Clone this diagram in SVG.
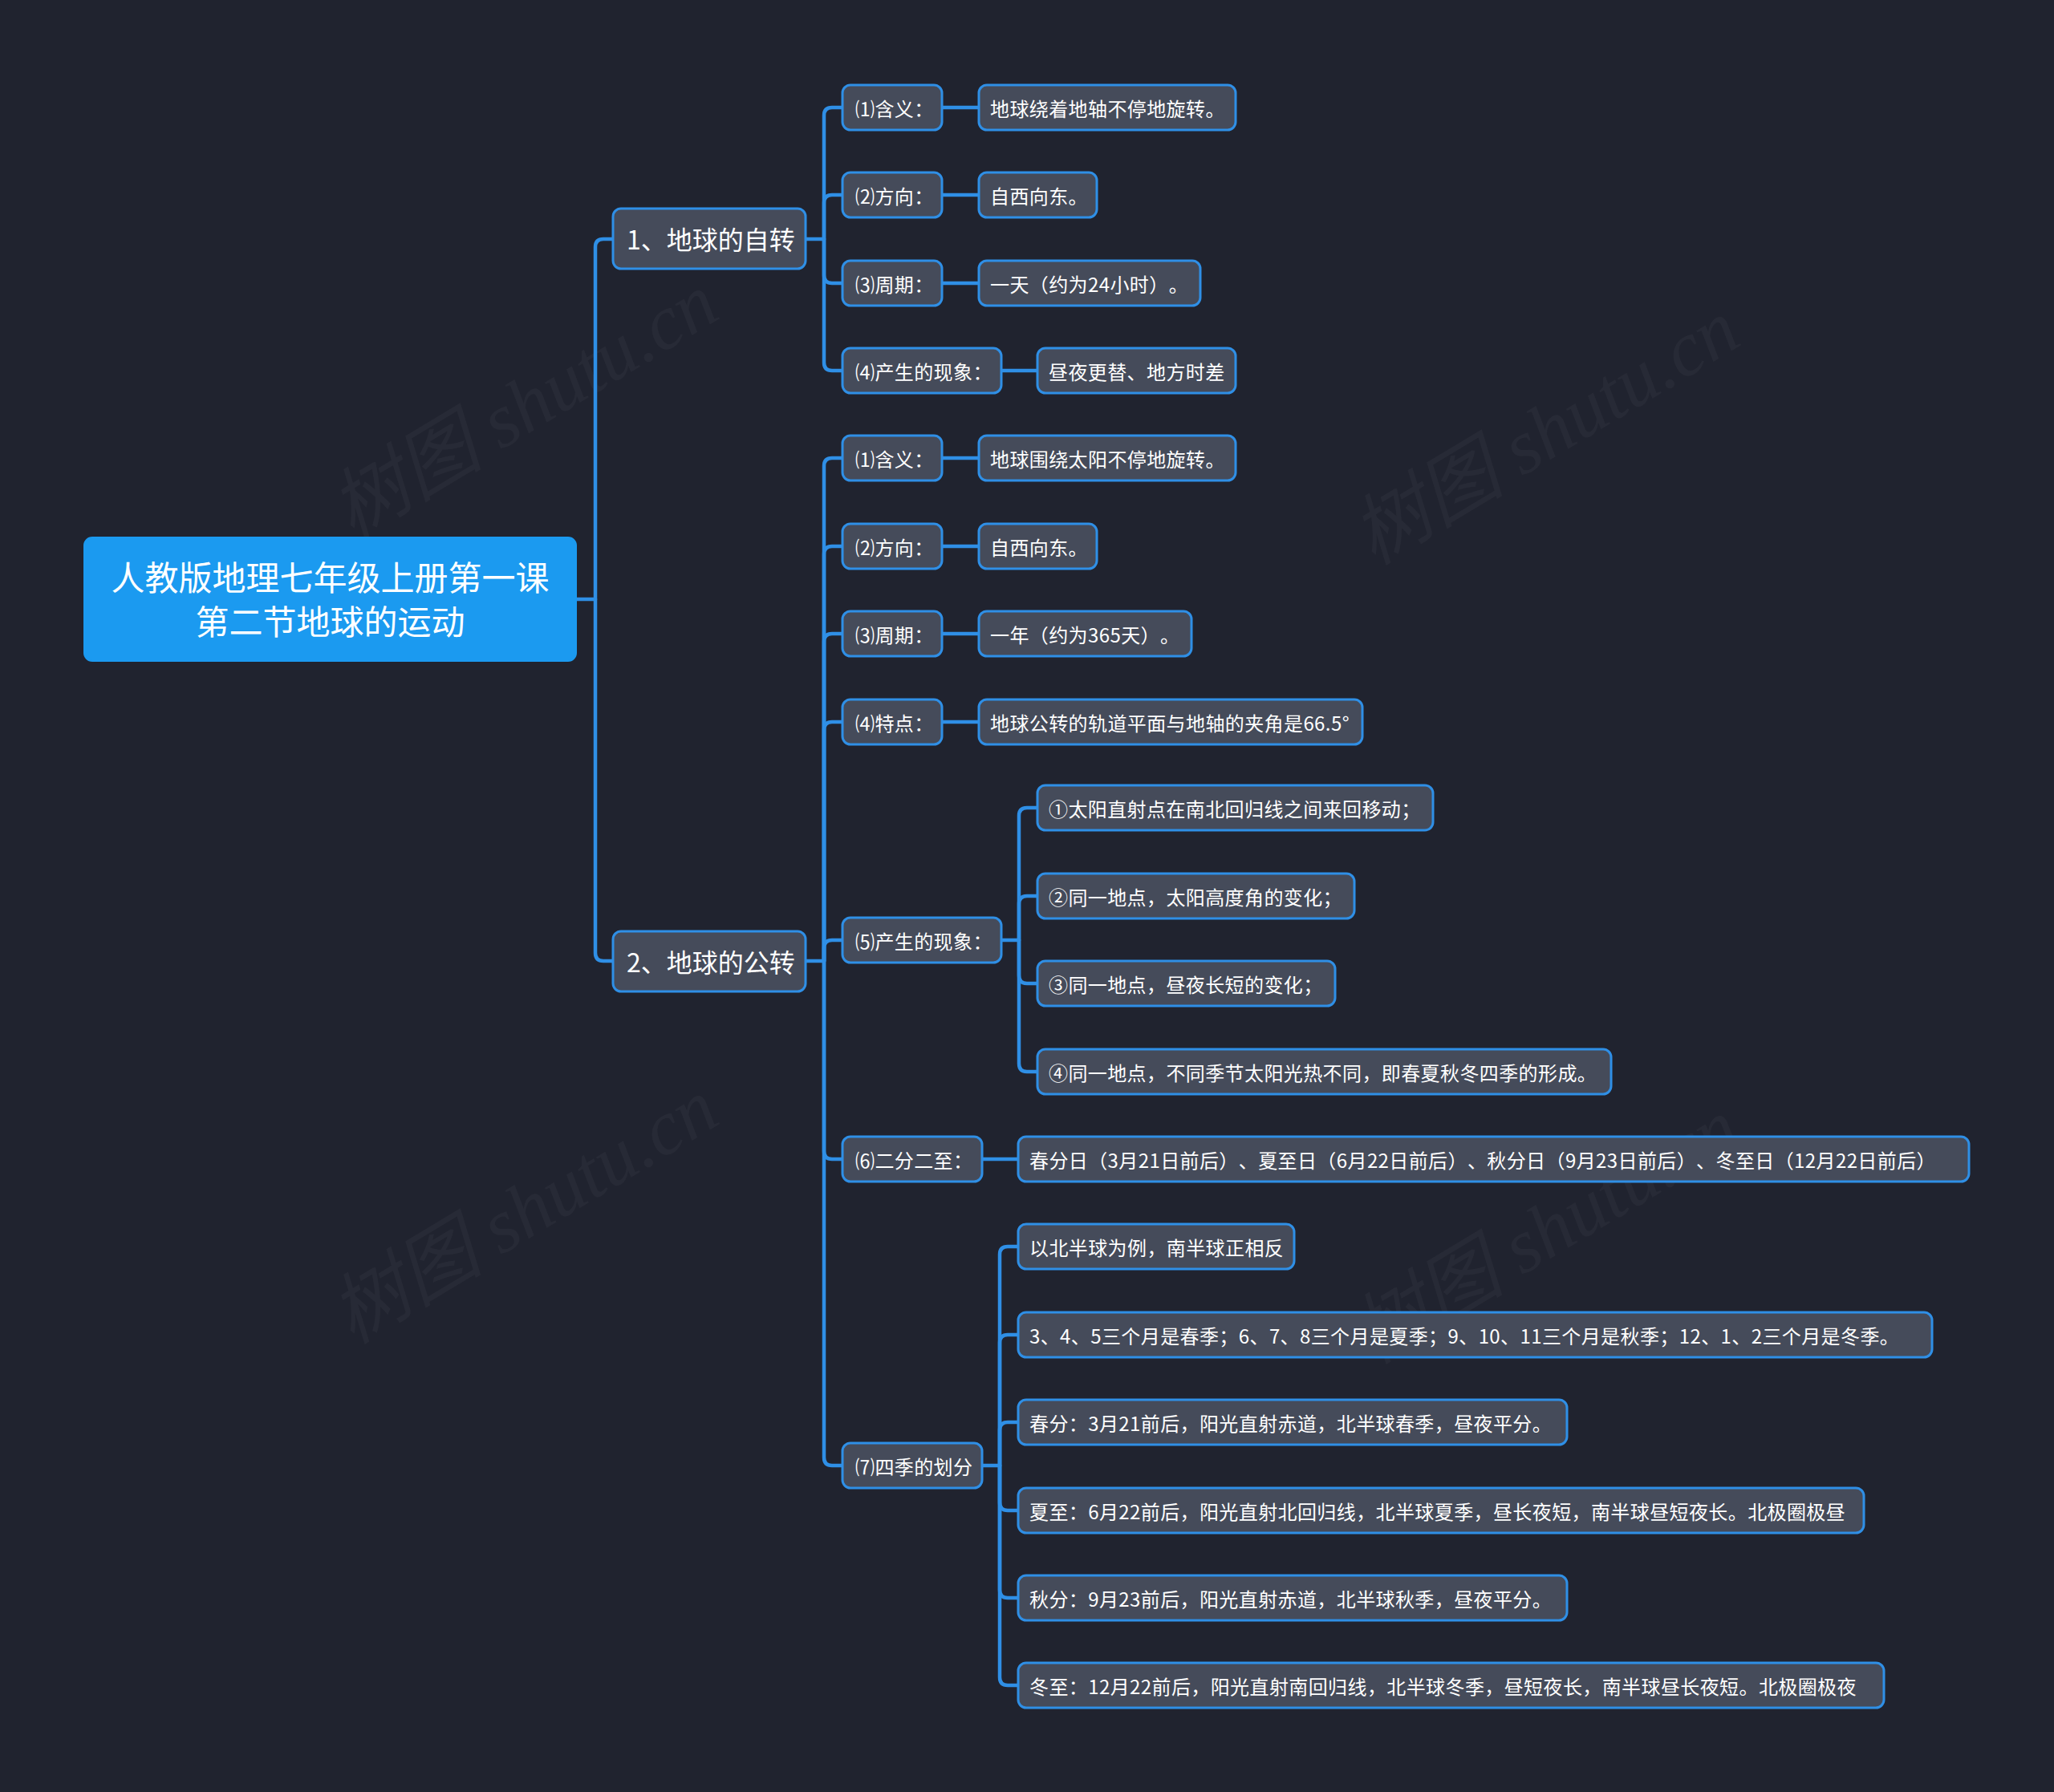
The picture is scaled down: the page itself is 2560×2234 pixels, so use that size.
<svg xmlns="http://www.w3.org/2000/svg" width="2560" height="2234" viewBox="0 0 2560 2234">
<style>
.bg{fill:#20232f}
.wm{font-family:"Liberation Serif","Noto Sans CJK SC",serif;font-style:italic;font-size:96px;fill:#ffffff;fill-opacity:0.035}
.root rect{fill:#1b9af0;stroke:#1b9af0;stroke-width:2}
.root text{font-family:"Noto Sans CJK SC","Noto Sans",sans-serif;font-size:42px;fill:#ffffff;text-anchor:middle;dominant-baseline:central}
.n rect{fill:#454b5a;stroke:#2f8fe6;stroke-width:3}
.n text{font-family:"Noto Sans CJK SC","Noto Sans",sans-serif;font-size:24px;fill:#ffffff;dominant-baseline:central;text-spacing-trim:space-all;letter-spacing:0.4px}
.l1 text{font-size:32px;letter-spacing:0}
.c path{fill:none;stroke:#2f8fe6;stroke-width:4.5;stroke-linecap:round;stroke-linejoin:round}
</style>
<rect class="bg" x="0" y="0" width="2560" height="2234"/>
<g id="watermarks">
<text class="wm" transform="translate(653,506) rotate(-31)" text-anchor="middle" dominant-baseline="central">树图 shutu.cn</text>
<text class="wm" transform="translate(1926,539) rotate(-31)" text-anchor="middle" dominant-baseline="central">树图 shutu.cn</text>
<text class="wm" transform="translate(653,1510) rotate(-31)" text-anchor="middle" dominant-baseline="central">树图 shutu.cn</text>
<text class="wm" transform="translate(1926,1535) rotate(-31)" text-anchor="middle" dominant-baseline="central">树图 shutu.cn</text>
</g>
<g id="connectors" class="c">
<path d="M718,747 L742,747"/>
<path d="M742,747 L742,308 Q742,298 752,298 L764,298"/>
<path d="M742,747 L742,1188 Q742,1198 752,1198 L764,1198"/>
<path d="M1004,298 L1027,298"/>
<path d="M1027,298 L1027,144 Q1027,134 1037,134 L1050,134"/>
<path d="M1027,298 L1027,253 Q1027,243 1037,243 L1050,243"/>
<path d="M1027,298 L1027,343 Q1027,353 1037,353 L1050,353"/>
<path d="M1027,298 L1027,452 Q1027,462 1037,462 L1050,462"/>
<path d="M1174,134 L1220,134"/>
<path d="M1174,243 L1220,243"/>
<path d="M1174,353 L1220,353"/>
<path d="M1248,462 L1293,462"/>
<path d="M1004,1198 L1027,1198"/>
<path d="M1027,1198 L1027,581 Q1027,571 1037,571 L1050,571"/>
<path d="M1027,1198 L1027,691 Q1027,681 1037,681 L1050,681"/>
<path d="M1027,1198 L1027,800 Q1027,790 1037,790 L1050,790"/>
<path d="M1027,1198 L1027,910 Q1027,900 1037,900 L1050,900"/>
<path d="M1027,1198 L1027,1182 Q1027,1172 1037,1172 L1050,1172"/>
<path d="M1027,1198 L1027,1435 Q1027,1445 1037,1445 L1050,1445"/>
<path d="M1027,1198 L1027,1817 Q1027,1827 1037,1827 L1050,1827"/>
<path d="M1174,571 L1220,571"/>
<path d="M1174,681 L1220,681"/>
<path d="M1174,790 L1220,790"/>
<path d="M1174,900 L1220,900"/>
<path d="M1248,1172 L1270,1172"/>
<path d="M1270,1172 L1270,1017 Q1270,1007 1280,1007 L1293,1007"/>
<path d="M1270,1172 L1270,1127 Q1270,1117 1280,1117 L1293,1117"/>
<path d="M1270,1172 L1270,1216 Q1270,1226 1280,1226 L1293,1226"/>
<path d="M1270,1172 L1270,1326 Q1270,1336 1280,1336 L1293,1336"/>
<path d="M1224,1445 L1269,1445"/>
<path d="M1224,1827 L1246,1827"/>
<path d="M1246,1827 L1246,1564 Q1246,1554 1256,1554 L1269,1554"/>
<path d="M1246,1827 L1246,1674 Q1246,1664 1256,1664 L1269,1664"/>
<path d="M1246,1827 L1246,1783 Q1246,1773 1256,1773 L1269,1773"/>
<path d="M1246,1827 L1246,1873 Q1246,1883 1256,1883 L1269,1883"/>
<path d="M1246,1827 L1246,1982 Q1246,1992 1256,1992 L1269,1992"/>
<path d="M1246,1827 L1246,2091 Q1246,2101 1256,2101 L1269,2101"/>
</g>
<g id="root" class="root"><rect x="105" y="670" width="613" height="154" rx="10"/><text x="411.5" y="717">人教版地理七年级上册第一课</text><text x="411.5" y="772">第二节地球的运动</text></g>
<g id="n1" class="n l1"><rect x="764" y="260" width="240" height="75" rx="10"/><text x="781" y="297">1、地球的自转</text></g>
<g id="n2" class="n l1"><rect x="764" y="1161" width="240" height="75" rx="10"/><text x="781" y="1198">2、地球的公转</text></g>
<g id="n1a" class="n"><rect x="1050" y="106" width="124" height="56" rx="10"/><text x="1066" y="134">⑴含义：</text></g>
<g id="n1a1" class="n"><rect x="1220" y="106" width="320" height="56" rx="10"/><text x="1234" y="134">地球绕着地轴不停地旋转。</text></g>
<g id="n1b" class="n"><rect x="1050" y="215" width="124" height="56" rx="10"/><text x="1066" y="243">⑵方向：</text></g>
<g id="n1b1" class="n"><rect x="1220" y="215" width="147" height="56" rx="10"/><text x="1234" y="243">自西向东。</text></g>
<g id="n1c" class="n"><rect x="1050" y="325" width="124" height="56" rx="10"/><text x="1066" y="353">⑶周期：</text></g>
<g id="n1c1" class="n"><rect x="1220" y="325" width="276" height="56" rx="10"/><text x="1234" y="353">一天（约为24小时）。</text></g>
<g id="n1d" class="n"><rect x="1050" y="434" width="198" height="56" rx="10"/><text x="1066" y="462">⑷产生的现象：</text></g>
<g id="n1d1" class="n"><rect x="1293" y="434" width="247" height="56" rx="10"/><text x="1307" y="462">昼夜更替、地方时差</text></g>
<g id="n2a" class="n"><rect x="1050" y="543" width="124" height="56" rx="10"/><text x="1066" y="571">⑴含义：</text></g>
<g id="n2a1" class="n"><rect x="1220" y="543" width="320" height="56" rx="10"/><text x="1234" y="571">地球围绕太阳不停地旋转。</text></g>
<g id="n2b" class="n"><rect x="1050" y="653" width="124" height="56" rx="10"/><text x="1066" y="681">⑵方向：</text></g>
<g id="n2b1" class="n"><rect x="1220" y="653" width="147" height="56" rx="10"/><text x="1234" y="681">自西向东。</text></g>
<g id="n2c" class="n"><rect x="1050" y="762" width="124" height="56" rx="10"/><text x="1066" y="790">⑶周期：</text></g>
<g id="n2c1" class="n"><rect x="1220" y="762" width="265" height="56" rx="10"/><text x="1234" y="790">一年（约为365天）。</text></g>
<g id="n2d" class="n"><rect x="1050" y="872" width="124" height="56" rx="10"/><text x="1066" y="900">⑷特点：</text></g>
<g id="n2d1" class="n"><rect x="1220" y="872" width="478" height="56" rx="10"/><text x="1234" y="900">地球公转的轨道平面与地轴的夹角是66.5°</text></g>
<g id="n2e" class="n"><rect x="1050" y="1144" width="198" height="56" rx="10"/><text x="1066" y="1172">⑸产生的现象：</text></g>
<g id="n2e1" class="n"><rect x="1293" y="979" width="493" height="56" rx="10"/><text x="1307" y="1007">①太阳直射点在南北回归线之间来回移动；</text></g>
<g id="n2e2" class="n"><rect x="1293" y="1089" width="395" height="56" rx="10"/><text x="1307" y="1117">②同一地点，太阳高度角的变化；</text></g>
<g id="n2e3" class="n"><rect x="1293" y="1198" width="371" height="56" rx="10"/><text x="1307" y="1226">③同一地点，昼夜长短的变化；</text></g>
<g id="n2e4" class="n"><rect x="1293" y="1308" width="715" height="56" rx="10"/><text x="1307" y="1336">④同一地点，不同季节太阳光热不同，即春夏秋冬四季的形成。</text></g>
<g id="n2f" class="n"><rect x="1050" y="1417" width="174" height="56" rx="10"/><text x="1066" y="1445">⑹二分二至：</text></g>
<g id="n2f1" class="n"><rect x="1269" y="1417" width="1185" height="56" rx="10"/><text x="1283" y="1445">春分日（3月21日前后）、夏至日（6月22日前后）、秋分日（9月23日前后）、冬至日（12月22日前后）</text></g>
<g id="n2g" class="n"><rect x="1050" y="1799" width="174" height="56" rx="10"/><text x="1066" y="1827">⑺四季的划分</text></g>
<g id="n2g1" class="n"><rect x="1269" y="1526" width="344" height="56" rx="10"/><text x="1283" y="1554">以北半球为例，南半球正相反</text></g>
<g id="n2g2" class="n"><rect x="1269" y="1636" width="1139" height="56" rx="10"/><text x="1283" y="1664">3、4、5三个月是春季；6、7、8三个月是夏季；9、10、11三个月是秋季；12、1、2三个月是冬季。</text></g>
<g id="n2g3" class="n"><rect x="1269" y="1745" width="684" height="56" rx="10"/><text x="1283" y="1773">春分：3月21前后，阳光直射赤道，北半球春季，昼夜平分。</text></g>
<g id="n2g4" class="n"><rect x="1269" y="1855" width="1054" height="56" rx="10"/><text x="1283" y="1883">夏至：6月22前后，阳光直射北回归线，北半球夏季，昼长夜短，南半球昼短夜长。北极圈极昼</text></g>
<g id="n2g5" class="n"><rect x="1269" y="1964" width="684" height="56" rx="10"/><text x="1283" y="1992">秋分：9月23前后，阳光直射赤道，北半球秋季，昼夜平分。</text></g>
<g id="n2g6" class="n"><rect x="1269" y="2073" width="1079" height="56" rx="10"/><text x="1283" y="2101">冬至：12月22前后，阳光直射南回归线，北半球冬季，昼短夜长，南半球昼长夜短。北极圈极夜</text></g>
</svg>
